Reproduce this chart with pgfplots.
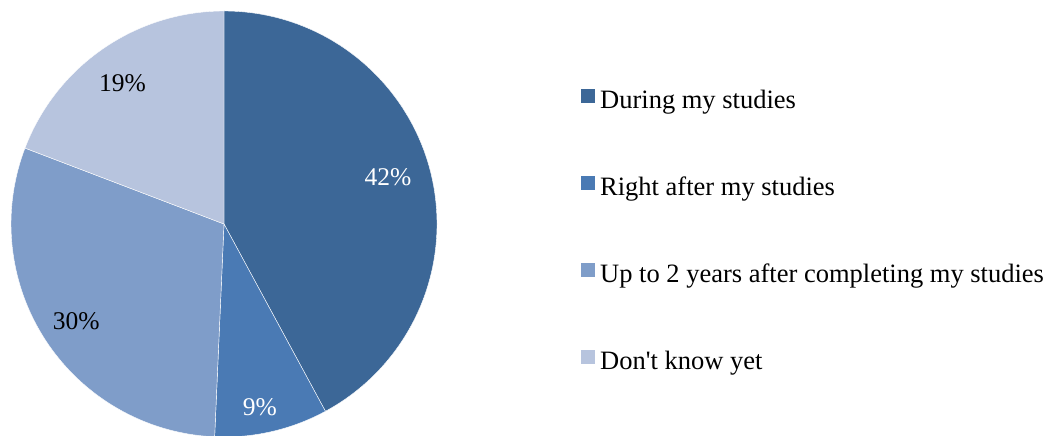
\documentclass[border=0pt]{standalone}
\usepackage{pgfplots}
\pgfplotsset{compat=1.18}
\usetikzlibrary{calc}
\usepackage{fontspec}
\setmainfont{Liberation Serif}
\definecolor{cA}{RGB}{60,103,151}
\definecolor{cB}{RGB}{74,122,180}
\definecolor{cC}{RGB}{127,157,201}
\definecolor{cD}{RGB}{183,196,222}
\begin{document}
\begin{tikzpicture}
\begin{axis}[
  width=1053pt, height=436pt, scale only axis,
  xmin=0, xmax=1053, ymin=0, ymax=436,
  hide axis, clip=true,
  legend cell align=left,
  legend style={draw=none, fill=none, at={(axis cs:581,347)}, anchor=north west,
    font=\fontsize{26.5}{30}\selectfont, inner sep=0pt,
    nodes={inner sep=0pt, text height=18pt, text depth=6pt},
    row sep=62pt, column sep=5pt},
  legend image code/.code={\fill[#1, draw=none] (0pt,-1pt) rectangle (14pt,13pt);},
]
\addlegendimage{fill=cA, draw=none}
\addlegendentry{During my studies}
\addlegendimage{fill=cB, draw=none}
\addlegendentry{Right after my studies}
\addlegendimage{fill=cC, draw=none}
\addlegendentry{Up to 2 years after completing my studies}
\addlegendimage{fill=cD, draw=none}
\addlegendentry{Don\textquotesingle t know yet}
\pgfplotsextra{
  \path (axis cs:0,0) rectangle (axis cs:1053,436);
  \def\cx{224}\def\cy{212}\def\R{213pt}
  \gdef\startang{90}
  \foreach \v/\col/\tc/\la/\lr in {42.1/cA/white/16.0/170.6, 8.6/cB/white/-78.9/186.5, 30.1/cC/black/-146.7/176.7, 19.2/cD/black/125.75/173.7}{
    \pgfmathsetmacro{\endang}{\startang-3.6*\v}
    \fill[\col, draw=white, line width=0.4pt] (axis cs:\cx,\cy) -- ++(\startang:\R) arc[start angle=\startang, end angle=\endang, radius=\R] -- cycle;
    \node[text=\tc, inner sep=0pt, font=\fontsize{25.5}{28}\selectfont] at ($(axis cs:\cx,\cy)+(\la:\lr pt)$) {\pgfmathprintnumber[fixed, precision=0, assume math mode=true]{\v}\%};
    \global\let\startang\endang
  }
}
\end{axis}
\end{tikzpicture}
\end{document}
